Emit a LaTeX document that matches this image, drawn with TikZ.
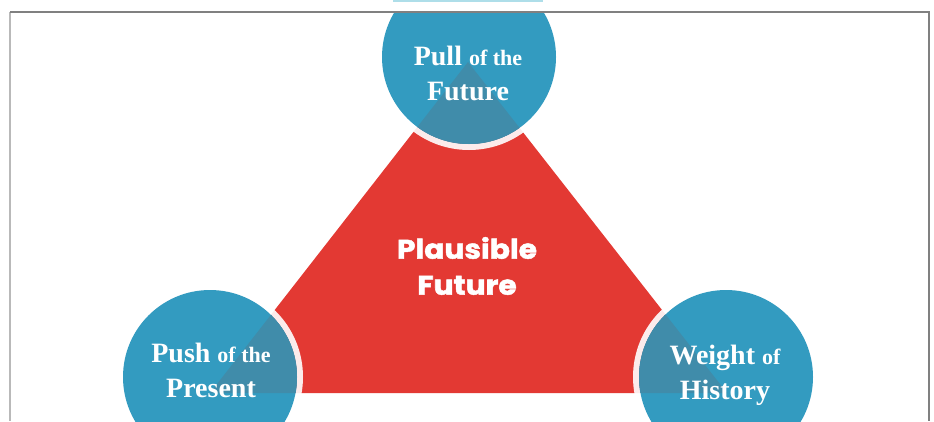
\documentclass[tikz,border=0pt]{standalone}
\usepackage{fontspec}
\setmainfont{Liberation Serif}
\newfontfamily\popfont{Poppins}[BoldFeatures={FakeBold=1.8}]
\usetikzlibrary{positioning,
	shapes,
	shapes.geometric}
\definecolor{discblue}{RGB}{51,155,192}
\definecolor{overblue}{RGB}{64,140,170}
\definecolor{trired}{RGB}{227,57,51}
\definecolor{barblue}{RGB}{174,222,233}
\newcommand{\bigtxt}{\fontsize{28}{35}\selectfont}
\newcommand{\smtxt}{\fontsize{22}{35}\selectfont}

\begin{document}
\begin{tikzpicture}[x=1pt,y=-1pt,
	disc/.style={circle,fill=discblue,minimum size=174pt,inner sep=0pt},
	ring/.style={circle,draw=white,draw opacity=0.9,line width=6pt,minimum size=180pt,inner sep=0pt},
	lbl/.style={text=white,font=\bfseries\bigtxt,align=center,inner sep=0pt}]

\useasboundingbox (0,0) rectangle (934,421);

\fill[barblue] (393,0) rectangle (543,1.5);% bar above frame

\begin{scope}
\clip (10,12) rectangle (929,421);
\coordinate (apex) at (468,62);
\coordinate (bl) at (210,393);
\coordinate (br) at (727,393);
\fill[trired] (apex) -- (bl) -- (br) -- cycle;% triangle

\node[ring] (pullring) at (469,57) {};
\node[ring] (pushring) at (210,377) {};
\node[ring] (weightring) at (726,377) {};

\node[disc] (pull) at (469,57) {};
\node[disc] (push) at (210,377) {};
\node[disc] (weight) at (726,377) {};

% triangle seen through the circles
\clip (pull.center) circle (87) (push.center) circle (87) (weight.center) circle (87);
\fill[overblue] (apex) -- (bl) -- (br) -- cycle;
\end{scope}

\node[lbl] (pulltxt) at (468,73) {Pull {\smtxt of the}\\Future};
\node[lbl] (pushtxt) at (211,370) {Push {\smtxt of the}\\Present};
\node[lbl] (weighttxt) at (725,375) {Weight {\smtxt of}\\History};

\node[text=white,font=\popfont\bfseries\fontsize{27}{36}\selectfont,align=center,inner sep=0pt,xscale=1.1]
	(plausible) at (467,266) {Plausible\\Future};

%frame
\draw[gray!55,line width=2pt] (10,12) -- (10,421);
\draw[gray,line width=1.5pt] (10,12) -- (929,12) -- (929,421);

\end{tikzpicture}
\end{document}
